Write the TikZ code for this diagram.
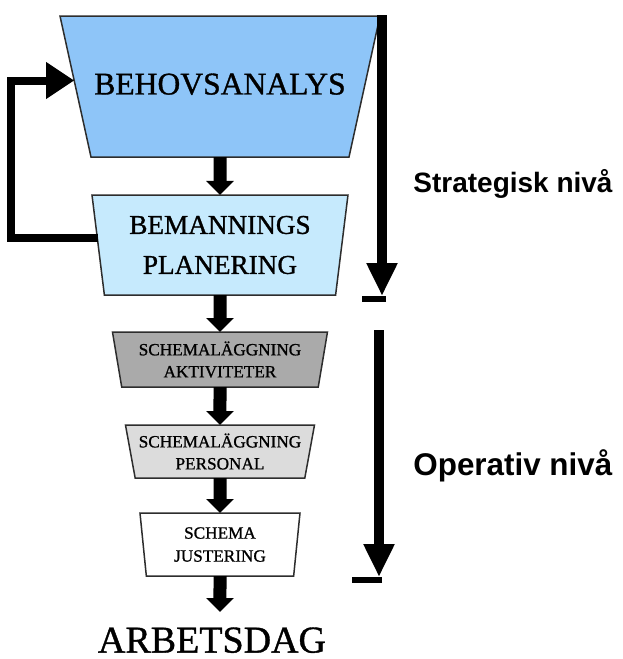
\documentclass[tikz,border=0pt]{standalone}
\usepackage{fontspec}
\setmainfont{Liberation Serif}
\newfontfamily\boxfont[RawFeature={embolden=1.0}]{Liberation Serif}
\newfontfamily\levelfont{Liberation Sans}
\usepackage{tikz}
\usetikzlibrary{positioning,arrows.meta,shapes.geometric,backgrounds}
\definecolor{behovclr}{RGB}{142,197,248}
\definecolor{bemanclr}{RGB}{198,234,253}
\definecolor{aktclr}{RGB}{170,170,170}
\definecolor{persclr}{RGB}{220,220,220}
\definecolor{rimclr}{RGB}{45,45,45}
\tikzset{
    rim/.style={draw=rimclr,line width=0.75pt},
    funnel/.style={trapezium,trapezium stretches body,shape border rotate=180,rim,inner sep=0pt,outer sep=0pt,align=center},
    flow/.style={-{Triangle[length=7pt,width=13.5pt]},line width=6.5pt},
    back/.style={-{Triangle[length=14pt,width=17.5pt]},line width=4pt},
    level/.style={-{Triangle[length=16.5pt,width=14.5pt]},line width=5pt},
    bar/.style={line width=3pt},
    levellabel/.style={anchor=base west,inner sep=0pt,font=\levelfont\bfseries},
}

\begin{document}
\begin{tikzpicture}[x=0.5pt,y=-0.5pt]
\useasboundingbox (0,0) rectangle (622,659);
\node[minimum width=160pt,minimum height=70.5pt,inner sep=0pt,outer sep=0pt,text depth=2.5pt,font=\boxfont\fontsize{15.8}{18}\selectfont] (behov) at (220,86.5) {BEHOVSANALYS};
\begin{scope}[on background layer]
\draw[rim,fill=behovclr] (behov.north west) -- (behov.north east) -- ([xshift=-15.5pt]behov.south east) -- ([xshift=15.5pt]behov.south west) -- cycle;
\end{scope}
\node[funnel,fill=bemanclr,trapezium angle=78,minimum width=128pt,minimum height=50pt,font=\boxfont\fontsize{13.6}{20}\selectfont,below=19pt of behov] (beman) {BEMANNINGS\\PLANERING};
\node[funnel,fill=aktclr,trapezium angle=75.7,minimum width=107.5pt,minimum height=27.5pt,font=\boxfont\fontsize{8.6}{11}\selectfont,below=18.5pt of beman] (akt) {SCHEMALÄGGNING\\AKTIVITETER};
\node[funnel,fill=persclr,trapezium angle=75,minimum width=94.5pt,minimum height=26.5pt,font=\boxfont\fontsize{8.6}{11}\selectfont,below=19pt of akt] (pers) {SCHEMALÄGGNING\\PERSONAL};
\node[funnel,fill=white,trapezium angle=79.6,minimum width=80pt,minimum height=31.5pt,font=\boxfont\fontsize{8.6}{11.5}\selectfont,below=17.5pt of pers] (just) {SCHEMA\\JUSTERING};
\node[inner sep=7.5pt,font=\boxfont\fontsize{19}{22}\selectfont,below=18pt of just,xshift=-4pt] (arb) {ARBETSDAG};

\draw[flow] (behov) -- (beman);
\draw[flow] (beman) -- (akt);
\draw[flow] (akt) -- (pers);
\draw[flow] (pers) -- (just);
\draw[flow] (just) -- (just |- arb.north);
\draw[back] ([yshift=3.5pt]beman.west) -- ++(-43.5pt,0) |- ([xshift=7.1pt,yshift=3pt]behov.west);

% levels on the right
\coordinate (strTop) at (382,15);
\coordinate (strEnd) at (382,296);
\coordinate (opTop) at (379,330);
\coordinate (opEnd) at (379,577);
\draw[level] (strTop) -- (strEnd);
\draw[bar] (strEnd) ++(2pt,-1.5pt) -- ++(-12pt,0);
\draw[level] (opTop) -- (opEnd);
\draw[bar] (opEnd) ++(1.5pt,-1.5pt) -- ++(-15pt,0);
\node[levellabel,font=\levelfont\bfseries\fontsize{14}{16}\selectfont] (strat) at (413,192) {Strategisk nivå};
\node[levellabel,font=\levelfont\bfseries\fontsize{15.7}{18}\selectfont] (oper) at (413,475) {Operativ nivå};
\end{tikzpicture}
\end{document}
